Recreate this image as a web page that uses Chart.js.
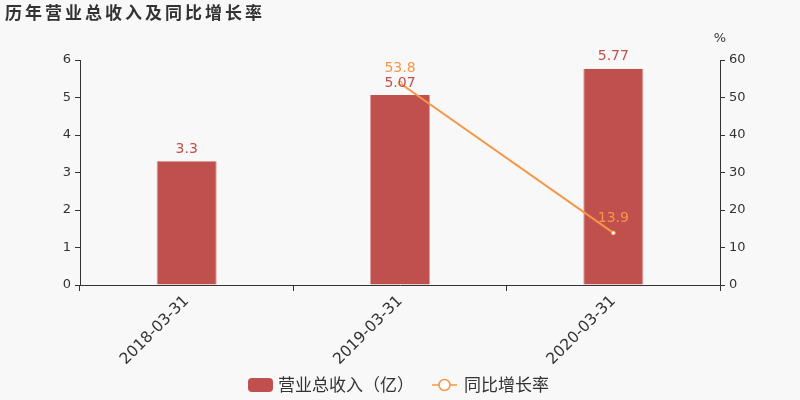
<!DOCTYPE html>
<html><head><meta charset="utf-8">
<script src="https://cdn.jsdelivr.net/npm/chart.js@4/dist/chart.umd.min.js"></script>
<style>html,body{margin:0;padding:0;background:#f8f8f8;}#wrap{width:800px;height:400px;position:relative;}</style>
</head><body><div id="wrap"><canvas id="c" width="800" height="400"></canvas></div>
<script>
const categories = ['2018-03-31', '2019-03-31', '2020-03-31'];
const revenue = [3.3, 5.07, 5.77];
const growth = [null, 53.8, 13.9];
const leftTicks = [0, 1, 2, 3, 4, 5, 6];
const rightTicks = [0, 10, 20, 30, 40, 50, 60];
const titleText = '历年营业总收入及同比增长率';
const revenueLabel = '营业总收入（亿）';
const growthLabel = '同比增长率';

const BAR = '#c0504d';
const LINE = '#f79646';
const FONT = '"DejaVu Sans", "Noto Sans CJK SC", sans-serif';
const CJK = '"Noto Sans CJK SC", "DejaVu Sans", sans-serif';

function spacedText(ctx, text, x, y, spacing) {
  let cx = x;
  for (const ch of text) {
    ctx.fillText(ch, cx, y);
    cx += ctx.measureText(ch).width + spacing;
  }
}

const decor = {
  id: 'decor',
  beforeDraw(chart) {
    const ctx = chart.ctx;
    ctx.save();
    ctx.fillStyle = '#f8f8f8';
    ctx.fillRect(0, 0, chart.width, chart.height);
    ctx.restore();
  },
  afterDraw(chart) {
    const ctx = chart.ctx;
    ctx.save();
    // title
    ctx.fillStyle = '#333';
    ctx.font = 'bold 17px ' + CJK;
    ctx.textBaseline = 'middle';
    ctx.textAlign = 'left';
    spacedText(ctx, titleText, 5, 13, 3);
    // unit
    ctx.font = '13px ' + FONT;
    ctx.textAlign = 'center';
    ctx.fillText('%', 720, 39);
    // data labels
    ctx.font = '14px ' + FONT;
    const m0 = chart.getDatasetMeta(0);
    m0.data.forEach((el, i) => {
      ctx.fillStyle = BAR;
      ctx.fillText(String(revenue[i]), el.x, el.y - 12);
    });
    const m1 = chart.getDatasetMeta(1);
    m1.data.forEach((el, i) => {
      if (growth[i] == null) return;
      ctx.fillStyle = LINE;
      ctx.fillText(String(growth[i]), el.x, el.y - 15);
    });
    // legend
    const ly = 385;
    ctx.fillStyle = BAR;
    ctx.beginPath();
    if (ctx.roundRect) ctx.roundRect(248, ly - 7, 25, 14, 4); else ctx.rect(248, ly - 7, 25, 14);
    ctx.fill();
    ctx.fillStyle = '#333';
    ctx.font = '17px ' + CJK;
    ctx.textAlign = 'left';
    ctx.fillText(revenueLabel, 278, ly);
    ctx.strokeStyle = LINE;
    ctx.lineWidth = 1.5;
    ctx.beginPath();
    ctx.moveTo(432, ly); ctx.lineTo(457, ly);
    ctx.stroke();
    ctx.beginPath();
    ctx.arc(444.5, ly, 5.5, 0, Math.PI * 2);
    ctx.fillStyle = '#fff';
    ctx.fill();
    ctx.stroke();
    ctx.fillStyle = '#333';
    ctx.fillText(growthLabel, 464, ly);
    ctx.restore();
  }
};

new Chart(document.getElementById('c'), {
  data: {
    labels: categories,
    datasets: [
      {
        type: 'bar', label: revenueLabel, data: revenue, yAxisID: 'y',
        backgroundColor: BAR, borderColor: '#d9a09e', borderWidth: {left:1,right:1,top:0,bottom:0},
        barPercentage: 0.282, categoryPercentage: 1, order: 2
      },
      {
        type: 'line', label: growthLabel, data: growth, yAxisID: 'y1',
        borderColor: LINE, borderWidth: 2, backgroundColor: '#fff',
        pointRadius: 2, pointBorderWidth: 1, pointBorderColor: LINE, pointBackgroundColor: '#fff',
        spanGaps: false, tension: 0, order: 1
      }
    ]
  },
  options: {
    responsive: false, animation: false,
    layout: { padding: { top: 60, left: 0, right: 0, bottom: 0 } },
    plugins: { legend: { display: false }, tooltip: { enabled: false } },
    scales: {
      x: {
        offset: true,
        grid: { display: true, drawOnChartArea: false, offset: true, tickLength: 6, color: '#333' },
        border: { display: true, color: '#333', width: 1 },
        ticks: { color: '#333', font: { size: 15.5, family: FONT }, maxRotation: 45, minRotation: 45, padding: 1 },
        afterFit(s) { s.height = 115; }
      },
      y: {
        position: 'left', min: 0, max: 6,
        afterBuildTicks(s) { s.ticks = leftTicks.map(v => ({ value: v })); },
        grid: { display: true, drawOnChartArea: false, tickLength: 5, color: '#333' },
        border: { display: true, color: '#333', width: 1 },
        ticks: { color: '#333', font: { size: 13, family: FONT }, padding: 4 },
        afterFit(s) { s.width = 80; }
      },
      y1: {
        position: 'right', min: 0, max: 60,
        afterBuildTicks(s) { s.ticks = rightTicks.map(v => ({ value: v })); },
        grid: { display: true, drawOnChartArea: false, tickLength: 5, color: '#333' },
        border: { display: true, color: '#333', width: 1 },
        ticks: { color: '#333', font: { size: 13, family: FONT }, padding: 4 },
        afterFit(s) { s.width = 80; }
      }
    }
  },
  plugins: [decor]
});
</script></body></html>
